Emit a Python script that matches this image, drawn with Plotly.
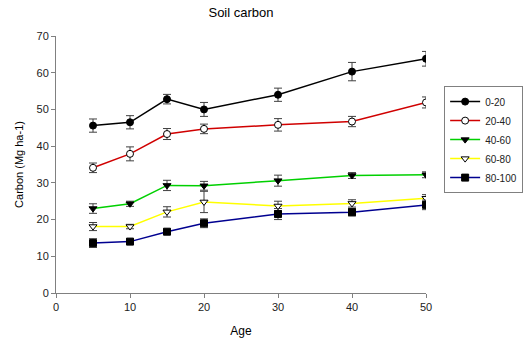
import plotly.graph_objects as go

age = [5, 10, 15, 20, 30, 40, 50]

c0_20 = [45.6, 46.5, 52.8, 50.0, 54.0, 60.3, 63.8]
e0_20 = [1.8, 1.8, 1.3, 1.9, 1.8, 2.5, 2.0]
c20_40 = [34.1, 37.9, 43.3, 44.7, 45.8, 46.7, 51.9]
e20_40 = [1.3, 1.9, 1.5, 1.3, 1.7, 1.4, 1.5]
c40_60 = [23.0, 24.3, 29.3, 29.2, 30.6, 32.0, 32.2]
e40_60 = [1.3, 0.7, 1.4, 1.2, 1.5, 0.8, 0.8]
c60_80 = [18.1, 18.1, 22.1, 24.8, 23.7, 24.4, 25.8]
e60_80 = [1.1, 0.6, 1.4, 2.9, 1.3, 1.0, 1.0]
c80_100 = [13.6, 14.0, 16.7, 19.0, 21.5, 22.0, 24.0]
e80_100 = [1.2, 0.6, 0.6, 1.2, 1.5, 1.0, 1.3]

series = [
    ("0-20", c0_20, e0_20, "#000000", "circle", "#000000"),
    ("20-40", c20_40, e20_40, "#d00000", "circle", "#ffffff"),
    ("40-60", c40_60, e40_60, "#00d000", "triangle-down", "#000000"),
    ("60-80", c60_80, e60_80, "#ffff00", "triangle-down", "#ffffff"),
    ("80-100", c80_100, e80_100, "#000090", "square", "#000000"),
]

fig = go.Figure()
for name, vals, errs, lc, sym, fill in series:
    fig.add_trace(go.Scatter(
        x=age, y=vals, name=name, mode="lines+markers",
        line=dict(color=lc, width=1.5),
        marker=dict(symbol=sym, size=7, color=fill,
                    line=dict(color="#000000", width=1)),
        error_y=dict(type="data", array=errs, visible=True,
                     color="#404040", thickness=1, width=4),
    ))

fig.update_layout(
    width=525, height=341,
    margin=dict(l=56, r=99, t=36, b=48, autoexpand=False),
    paper_bgcolor="white", plot_bgcolor="white",
    font=dict(family="Liberation Sans, Arial, sans-serif", size=11, color="#222"),
    title=dict(text="Soil carbon", x=241/525, xanchor="center", y=1 - 12/341,
               yanchor="middle", font=dict(size=13, color="#000"), automargin=False),
    showlegend=True,
    legend=dict(x=1.049, y=0.805, xanchor="left", yanchor="top",
                bordercolor="#808080", borderwidth=1, bgcolor="white",
                font=dict(size=10), tracegroupgap=0, itemwidth=30),
)
fig.update_xaxes(
    range=[0, 50], tickvals=[0, 10, 20, 30, 40, 50], automargin=False,
    showgrid=False, zeroline=False, showline=True, linecolor="#808080", linewidth=1,
    ticks="outside", tickcolor="#808080", ticklen=4,
    title=dict(text="Age", font=dict(size=12, color="#000"), standoff=14),
)
fig.update_yaxes(
    range=[0, 70], tickvals=[0, 10, 20, 30, 40, 50, 60, 70], automargin=False,
    showgrid=False, zeroline=False, showline=True, linecolor="#808080", linewidth=1,
    ticks="outside", tickcolor="#808080", ticklen=4,
    title=dict(text="Carbon (Mg ha-1)", font=dict(size=11, color="#000"), standoff=10),
)

fig.write_html("out.html", config={"displayModeBar": False},
               post_script="document.body.style.margin='0';document.body.style.padding='0';")
